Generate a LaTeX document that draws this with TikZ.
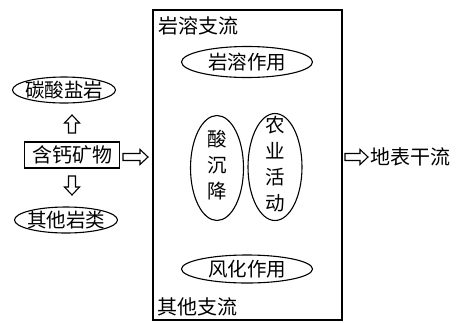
\documentclass[tikz,border=0pt]{standalone}
\usepackage{fontspec}
\newfontfamily\cjk{Noto Sans CJK SC}
\usetikzlibrary{shapes.geometric}
\newcommand\zb[1]{\raisebox{-0.36em}[0pt][0pt]{\makebox[0pt]{#1}}}
\newcommand\zv[1]{\makebox[0pt]{\parbox[c][0pt][c]{1.2em}{\centering\baselineskip=26pt #1}}}
\tikzset{
  lbl/.style={font=\cjk\fontsize{20}{24}\selectfont, inner sep=0pt},
  oval/.style={draw, ellipse, line width=1.1pt, inner sep=0pt, font=\cjk\fontsize{19.5}{24}\selectfont},
  blk/.style={draw, rectangle, line width=1.1pt, inner sep=0pt, font=\cjk\fontsize{20}{24}\selectfont},
  barr/.style={draw, line width=1.1pt, line join=miter}
}
\newcommand\blockarrow[4]{% name, position, rotation, length
  \coordinate (#1) at #2;
  \draw[barr, shift={(#1)}, rotate=#3] (0,-3.5) -- ({#4-8},-3.5) -- ({#4-8},-7.5) -- (#4,0) -- ({#4-8},7.5) -- ({#4-8},3.5) -- (0,3.5) -- cycle;
}
\begin{document}
\begin{tikzpicture}[x=1pt,y=-1pt]
\useasboundingbox (0,0) rectangle (457,322);
\node[draw, line width=1.1pt, minimum width=189pt, minimum height=310pt, inner sep=0] (frame) at (247.5,165) {};
\node[lbl, anchor=west] (t1) at (158,26) {岩溶支流};
\node[lbl, anchor=west] (t2) at (157,307) {其他支流};
\node[oval, minimum width=131pt, minimum height=31pt] (ky) at (247,62) {\zb{岩溶作用}};
\node[oval, minimum width=131pt, minimum height=28pt] (fh) at (247,269) {\zb{风化作用}};
\node[oval, minimum width=53pt, minimum height=105pt] (scj) at (217,168) {\zv{酸\\沉\\降}};
\node[oval, minimum width=54pt, minimum height=107pt] (ny) at (275,167) {\zv{农\\业\\活\\动}};
\node[blk, minimum width=95pt, minimum height=26pt] (hg) at (72,155) {含钙矿物};
\node[oval, minimum width=103pt, minimum height=26pt] (ts) at (64,90) {\zb{碳酸盐岩}};
\node[oval, minimum width=103pt, minimum height=26pt] (qt) at (66,220) {\zb{其他岩类}};
\blockarrow{a1}{(72,133)}{90}{18}
\blockarrow{a2}{(72,176)}{-90}{19}
\blockarrow{a3}{(123,157)}{0}{25}
\blockarrow{a4}{(345,157)}{0}{23}
\node[lbl, anchor=west] (dz) at (370,157) {地表干流};
\end{tikzpicture}
\end{document}
